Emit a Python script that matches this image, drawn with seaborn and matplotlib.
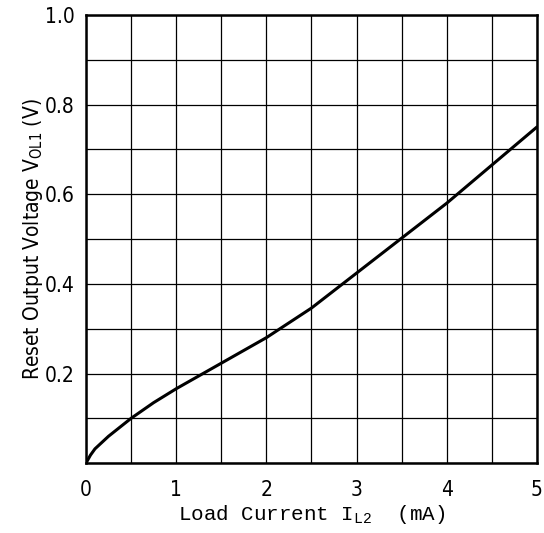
import numpy as np
import pandas as pd
import matplotlib
matplotlib.use("Agg")
import matplotlib.pyplot as plt
import seaborn as sns

# values
load_current = [0.0, 0.05, 0.1, 0.25, 0.5, 0.75, 1.0, 1.5, 2.0, 2.5, 3.0, 3.5, 4.0, 4.5, 5.0]
output_voltage = [0.0, 0.018, 0.032, 0.06, 0.10, 0.135, 0.166, 0.223, 0.28, 0.346, 0.424, 0.502, 0.58, 0.665, 0.75]

x_ticks = [0, 1, 2, 3, 4, 5]
y_ticks = [0.2, 0.4, 0.6, 0.8, 1.0]
y_tick_labels = ["0.2", "0.4", "0.6", "0.8", "1.0"]

sns.set_theme(style="white")
plt.rcParams["font.family"] = ["DejaVu Sans"]
plt.rcParams["font.stretch"] = "condensed"
plt.rcParams["mathtext.fontset"] = "custom"
plt.rcParams["mathtext.rm"] = "DejaVu Sans:stretch=condensed"
plt.rcParams["mathtext.tt"] = "Liberation Mono"

df = pd.DataFrame({"current": load_current, "voltage": output_voltage})

fig = plt.figure(figsize=(5.44, 5.33), dpi=100)
ax = fig.add_axes([0.158, 0.131, 0.829, 0.841])

sns.lineplot(data=df, x="current", y="voltage", color="black", linewidth=2.2, ax=ax)

ax.set_xlim(0, 5)
ax.set_ylim(0, 1.0)
ax.set_xticks(np.arange(0, 5.01, 0.5), minor=True)
ax.set_yticks(np.arange(0, 1.001, 0.1), minor=True)
ax.set_xticks(x_ticks)
ax.set_yticks(y_ticks)
ax.set_yticklabels(y_tick_labels)
ax.grid(True, which="both", color="black", linewidth=0.9)
ax.tick_params(which="both", length=0, labelsize=15, colors="black")
ax.tick_params(axis="x", pad=12)
ax.tick_params(axis="y", pad=8)
for s in ax.spines.values():
    s.set_color("black")
    s.set_linewidth(1.8)

ax.set_xlabel(r"Load Current I$_{\mathtt{L2}}$  (mA)", fontsize=15,
              family="Liberation Mono", stretch="normal", color="black", labelpad=2)
ax.set_ylabel(r"Reset Output Voltage V$_{\mathrm{OL1}}$ (V)", fontsize=15,
              color="black", labelpad=0)

fig.savefig("out.png", dpi=100, facecolor="white")
